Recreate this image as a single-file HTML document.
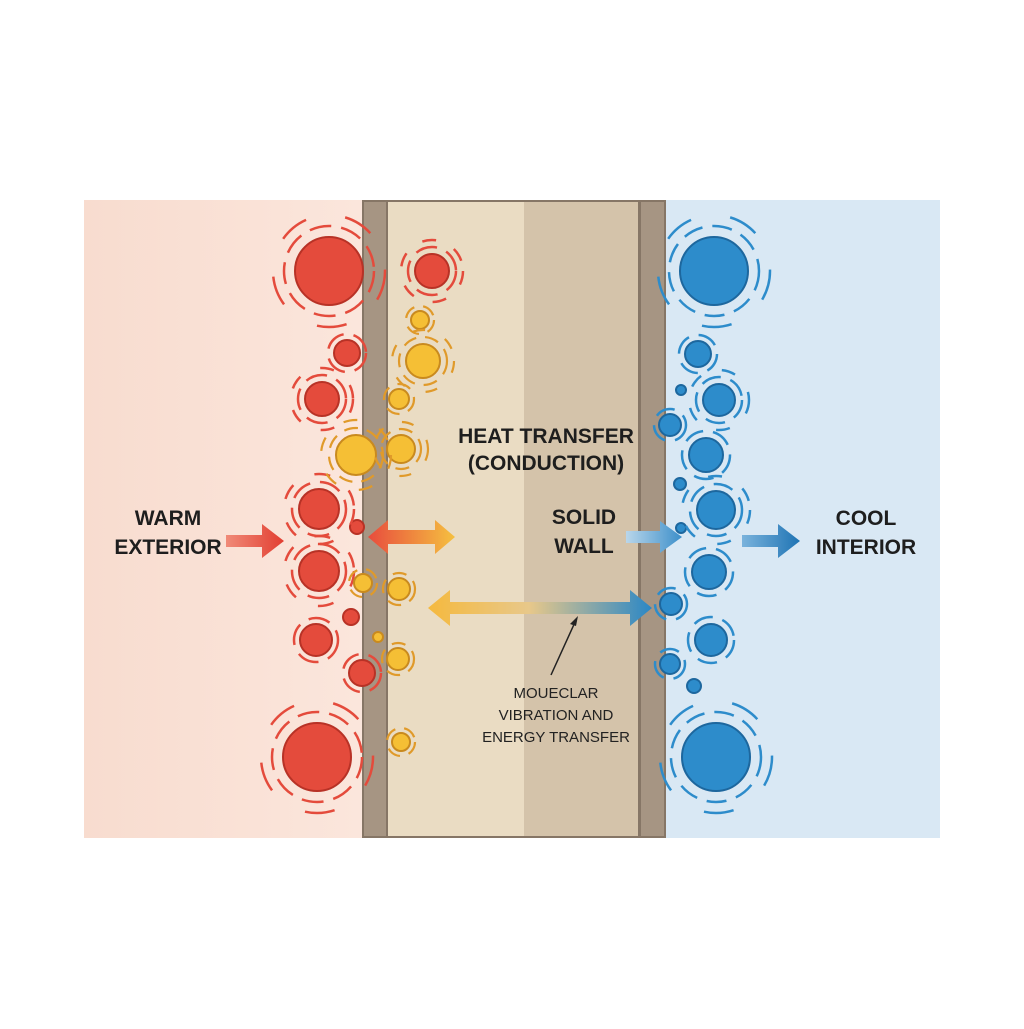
<!DOCTYPE html>
<html><head><style>body{margin:0;background:#fff}</style></head><body>
<svg width="1024" height="1024" viewBox="0 0 1024 1024" xmlns="http://www.w3.org/2000/svg" font-family="Liberation Sans, sans-serif">
<defs>
<linearGradient id="g1" x1="0" x2="1"><stop offset="0" stop-color="#f8dccf"/><stop offset="1" stop-color="#fbe6dc"/></linearGradient>
<linearGradient id="ro" x1="0" x2="1"><stop offset="0" stop-color="#e84c3d"/><stop offset="1" stop-color="#f5c040"/></linearGradient>
<linearGradient id="yb" x1="0" x2="1"><stop offset="0" stop-color="#f5b93e"/><stop offset="0.45" stop-color="#e8c88a"/><stop offset="1" stop-color="#2a87c6"/></linearGradient>
<linearGradient id="lb" x1="0" x2="1"><stop offset="0" stop-color="#b9d6ea"/><stop offset="1" stop-color="#3c8fca"/></linearGradient>
<linearGradient id="wr" x1="0" x2="1"><stop offset="0" stop-color="#f08a78"/><stop offset="1" stop-color="#e23e31"/></linearGradient>
<linearGradient id="cb" x1="0" x2="1"><stop offset="0" stop-color="#7ab3dc"/><stop offset="1" stop-color="#1f74b4"/></linearGradient>
</defs>
<rect x="84" y="200" width="280" height="638" fill="url(#g1)"/>
<rect x="664" y="200" width="276" height="638" fill="#d9e8f4"/>
<rect x="362" y="200" width="304" height="638" fill="#867666"/>
<rect x="364" y="202" width="22" height="634" fill="#a69583"/>
<rect x="388" y="202" width="136" height="634" fill="#eadcc3"/>
<rect x="524" y="202" width="114" height="634" fill="#d4c3aa"/>
<rect x="641" y="202" width="23" height="634" fill="#a69583"/>
<g id="particles">
<!-- red -->
<g fill="#e44b3c" stroke="#b83226" stroke-width="2">
<circle cx="329" cy="271" r="34"/><circle cx="432" cy="271" r="17"/><circle cx="347" cy="353" r="13"/><circle cx="322" cy="399" r="17"/>
<circle cx="319" cy="509" r="20"/><circle cx="319" cy="571" r="20"/><circle cx="351" cy="617" r="8"/><circle cx="357" cy="527" r="7"/>
<circle cx="316" cy="640" r="16"/><circle cx="362" cy="673" r="13"/><circle cx="317" cy="757" r="34"/></g>
<g fill="none" stroke="#e44b3c" stroke-width="2.5" stroke-dasharray="22 10">
<circle cx="329" cy="271" r="45"/><circle cx="329" cy="271" r="56" stroke-dasharray="30 40"/><circle cx="432" cy="271" r="24"/><circle cx="432" cy="271" r="31" stroke-dasharray="14 20"/>
<circle cx="347" cy="353" r="19"/><circle cx="322" cy="399" r="24"/><circle cx="322" cy="399" r="31" stroke-dasharray="14 22"/>
<circle cx="319" cy="509" r="27"/><circle cx="319" cy="509" r="35" stroke-dasharray="16 24"/><circle cx="319" cy="571" r="27"/><circle cx="319" cy="571" r="35" stroke-dasharray="16 24"/>
<circle cx="316" cy="640" r="22"/><circle cx="362" cy="673" r="19"/><circle cx="317" cy="757" r="45"/><circle cx="317" cy="757" r="56" stroke-dasharray="30 40"/></g>
<!-- yellow -->
<g fill="#f5bf35" stroke="#c98a1e" stroke-width="2">
<circle cx="420" cy="320" r="9"/><circle cx="423" cy="361" r="17"/><circle cx="399" cy="399" r="10"/><circle cx="356" cy="455" r="20"/>
<circle cx="401" cy="449" r="14"/><circle cx="363" cy="583" r="9"/><circle cx="399" cy="589" r="11"/><circle cx="378" cy="637" r="5"/>
<circle cx="398" cy="659" r="11"/><circle cx="401" cy="742" r="9"/></g>
<g fill="none" stroke="#e09a2a" stroke-width="2.2" stroke-dasharray="14 9">
<circle cx="420" cy="320" r="14"/><circle cx="423" cy="361" r="24"/><circle cx="423" cy="361" r="31" stroke-dasharray="12 22"/><circle cx="399" cy="399" r="15"/>
<circle cx="356" cy="455" r="27"/><circle cx="356" cy="455" r="35" stroke-dasharray="14 24"/><circle cx="401" cy="449" r="20"/><circle cx="401" cy="449" r="27" stroke-dasharray="12 20"/>
<circle cx="363" cy="583" r="14"/><circle cx="399" cy="589" r="16"/><circle cx="398" cy="659" r="16"/><circle cx="401" cy="742" r="14"/></g>
<!-- blue -->
<g fill="#2d8ccb" stroke="#1d679e" stroke-width="2">
<circle cx="714" cy="271" r="34"/><circle cx="698" cy="354" r="13"/><circle cx="681" cy="390" r="5"/><circle cx="719" cy="400" r="16"/>
<circle cx="670" cy="425" r="11"/><circle cx="706" cy="455" r="17"/><circle cx="680" cy="484" r="6"/><circle cx="716" cy="510" r="19"/>
<circle cx="681" cy="528" r="5"/><circle cx="709" cy="572" r="17"/><circle cx="671" cy="604" r="11"/><circle cx="711" cy="640" r="16"/>
<circle cx="670" cy="664" r="10"/><circle cx="694" cy="686" r="7"/><circle cx="716" cy="757" r="34"/></g>
<g fill="none" stroke="#2d8ccb" stroke-width="2.5" stroke-dasharray="20 10">
<circle cx="714" cy="271" r="45"/><circle cx="714" cy="271" r="56" stroke-dasharray="30 40"/><circle cx="698" cy="354" r="19"/><circle cx="719" cy="400" r="23"/><circle cx="719" cy="400" r="30" stroke-dasharray="14 22"/>
<circle cx="670" cy="425" r="16"/><circle cx="706" cy="455" r="24"/><circle cx="716" cy="510" r="26"/><circle cx="716" cy="510" r="34" stroke-dasharray="14 24"/>
<circle cx="709" cy="572" r="24"/><circle cx="671" cy="604" r="16"/><circle cx="711" cy="640" r="23"/><circle cx="670" cy="664" r="15"/>
<circle cx="716" cy="757" r="45"/><circle cx="716" cy="757" r="56" stroke-dasharray="30 40"/></g>
</g>
<!-- arrows -->
<path d="M226 535 H262 V524 L284 541 L262 558 V547 H226 Z" fill="url(#wr)"/>
<path d="M368 537 L388 520 V530 H435 V520 L455 537 L435 554 V544 H388 V554 Z" fill="url(#ro)"/>
<path d="M626 531 H660 V521 L682 537 L660 553 V543 H626 Z" fill="url(#lb)"/>
<path d="M742 535 H778 V524 L800 541 L778 558 V547 H742 Z" fill="url(#cb)"/>
<path d="M428 608 L450 590 V602 H630 V590 L652 608 L630 626 V614 H450 V626 Z" fill="url(#yb)"/>
<path d="M551 675 L576 620" stroke="#222" stroke-width="1.5"/>
<path d="M578 616 L570 624 L576 626 Z" fill="#222"/>
<!-- text -->
<g font-weight="bold" font-size="21" fill="#1e1e1e" text-anchor="middle">
<text x="168" y="525">WARM</text><text x="168" y="554">EXTERIOR</text>
<text x="546" y="443">HEAT TRANSFER</text><text x="546" y="470">(CONDUCTION)</text>
<text x="584" y="524">SOLID</text><text x="584" y="553">WALL</text>
<text x="866" y="525">COOL</text><text x="866" y="554">INTERIOR</text>
</g>
<g font-size="15" fill="#222" text-anchor="middle">
<text x="556" y="698">MOUECLAR</text><text x="556" y="720">VIBRATION AND</text><text x="556" y="742">ENERGY TRANSFER</text>
</g>
</svg>
</body></html>
